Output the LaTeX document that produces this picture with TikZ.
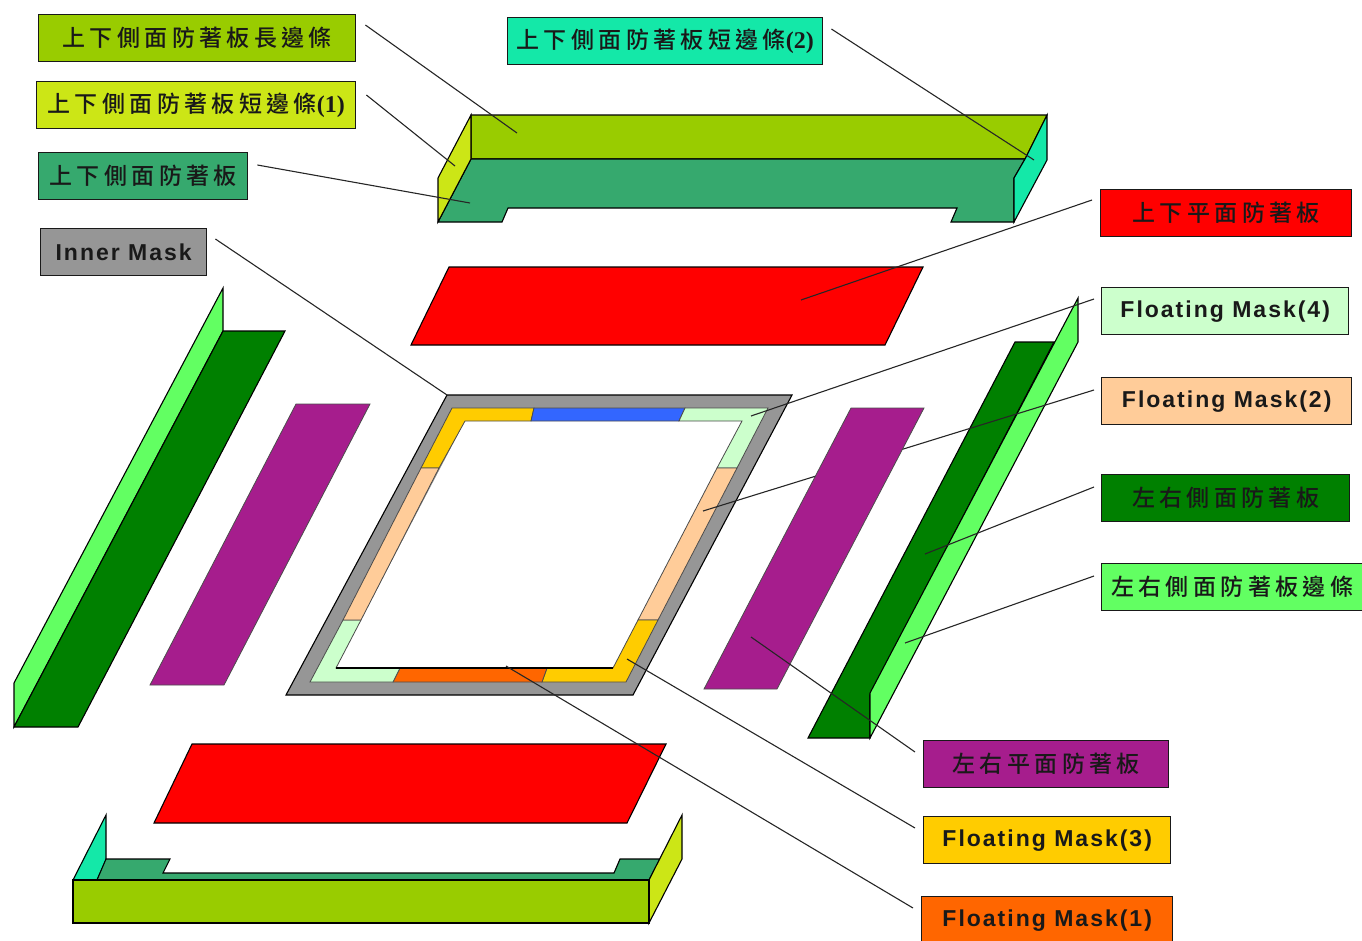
\documentclass[tikz,border=0pt]{standalone}
\usepackage{fontspec}
\setmainfont{Liberation Sans}
\newfontfamily\cjkf[LetterSpace=19]{Noto Sans CJK TC Medium}
\newfontfamily\latf[LetterSpace=8.7]{Liberation Sans Bold}
\newfontfamily\parf{Liberation Serif Bold}
\definecolor{cLong}{HTML}{99CC00}
\definecolor{cShort}{HTML}{CCE616}
\definecolor{cSide}{HTML}{36A96E}
\definecolor{cTeal}{HTML}{14E8A8}
\definecolor{cGray}{HTML}{969696}
\definecolor{cLGreen}{HTML}{CCFFCC}
\definecolor{cPeach}{HTML}{FFCC99}
\definecolor{cDGreen}{HTML}{008000}
\definecolor{cBright}{HTML}{62FF62}
\definecolor{cPurple}{HTML}{A61D8D}
\definecolor{cGold}{HTML}{FFCC00}
\definecolor{cOrange}{HTML}{FF6600}
\definecolor{cBlue}{HTML}{3366FF}
\tikzset{
  x=1pt,y=-1pt,
  lab/.style={draw=black!90,line width=1.4pt,minimum height=47pt,inner sep=0pt,anchor=north west,text=black!90},
  face/.style={draw=black,line width=1.1pt,line join=miter},
  seg/.style={draw=black!70,line width=0.8pt,line join=miter},
  lead/.style={draw=black!85,line width=1.1pt},
}
\newcommand{\cj}[1]{\raisebox{-1pt}{\fontsize{23}{25}\cjkf #1}}
\newcommand{\lt}[1]{{\fontsize{23}{25}\latf #1}}
\newcommand{\pn}[1]{\raisebox{-1pt}{\fontsize{24}{25}\parf #1}}
\begin{document}
\begin{tikzpicture}
\useasboundingbox (0,0) rectangle (1362,940);
% labels
\node[lab,fill=cLong,minimum width=317pt] (l1) at (38,14) {\cj{上下側面防著板長邊條}};
\node[lab,fill=cShort,minimum width=319pt] (l2) at (36,81) {\cj{上下側面防著板短邊條}\pn{(1)}};
\node[lab,fill=cSide,minimum width=209pt] (l3) at (38,152) {\cj{上下側面防著板}};
\node[lab,fill=cGray,minimum width=166pt] (l4) at (40,228) {\lt{Inner Mask}};
\node[lab,fill=cTeal,minimum width=315pt] (l5) at (507,17) {\cj{上下側面防著板短邊條}\pn{(2)}};
\node[lab,fill=red,minimum width=251pt] (l6) at (1100,189) {\cj{上下平面防著板}};
\node[lab,fill=cLGreen,minimum width=247pt] (l7) at (1101,287) {\lt{Floating Mask(4)}};
\node[lab,fill=cPeach,minimum width=250pt] (l8) at (1101,377) {\lt{Floating Mask(2)}};
\node[lab,fill=cDGreen,minimum width=248pt] (l9) at (1101,474) {\cj{左右側面防著板}};
\node[lab,fill=cBright,minimum width=261pt] (l10) at (1101,563) {\cj{左右側面防著板邊條}};
\node[lab,fill=cPurple,minimum width=245pt] (l11) at (923,740) {\cj{左右平面防著板}};
\node[lab,fill=cGold,minimum width=247pt] (l12) at (923,816) {\lt{Floating Mask(3)}};
\node[lab,fill=cOrange,minimum width=251pt] (l13) at (921,896) {\lt{Floating Mask(1)}};
% top assembly
\draw[face,fill=cLong] (471,115) -- (1047,115) -- (1025,159) -- (471,159) -- cycle;
\draw[face,fill=cSide] (471,159) -- (1025,159) -- (1014,178) -- (1014,222) -- (951,222) -- (957,208) -- (508,208) -- (502,222) -- (438,222) -- cycle;
\draw[face,fill=cShort] (471,115) -- (471,159) -- (438,222) -- (438,178) -- cycle;
\draw[face,fill=cTeal] (1047,115) -- (1025,159) -- (1014,178) -- (1014,222) -- (1047,160) -- cycle;
% planes
\draw[face,fill=red] (449,267) -- (923,267) -- (885,345) -- (411,345) -- cycle;
\draw[face,fill=red] (192,744) -- (666,744) -- (627,823) -- (154,823) -- cycle;
% left assembly
\draw[face,fill=cBright] (223,288) -- (223,331) -- (14,727) -- (14,683) -- cycle;
\draw[face,fill=cDGreen] (223,331) -- (285,331) -- (78,727) -- (14,727) -- cycle;
\draw[seg,fill=cPurple] (296,404) -- (370,404) -- (224,685) -- (150,685) -- cycle;
% frame
\draw[face,fill=cGray] (447,395) -- (792,395) -- (633,695) -- (286,695) -- cycle;
\fill[white] (465,421) -- (742,421) -- (613,668) -- (336,668) -- cycle;
\draw[seg,fill=cGold] (452,408) -- (534,408) -- (531,421) -- (465,421) -- (439,468) -- (421,468) -- cycle;
\draw[seg,fill=cBlue] (534,408) -- (685,408) -- (679,421) -- (531,421) -- cycle;
\draw[seg,fill=cLGreen] (685,408) -- (768,408) -- (737,468) -- (717,468) -- (742,421) -- (679,421) -- cycle;
\draw[seg,fill=cPeach] (717,468) -- (737,468) -- (658,620) -- (638,620) -- cycle;
\draw[seg,fill=cGold] (638,620) -- (658,620) -- (626,682) -- (542,682) -- (547,668) -- (613,668) -- cycle;
\draw[seg,fill=cOrange] (400,668) -- (547,668) -- (542,682) -- (393,682) -- cycle;
\draw[seg,fill=cLGreen] (343,620) -- (361,620) -- (336,668) -- (400,668) -- (393,682) -- (310,682) -- cycle;
\draw[seg,fill=cPeach] (421,468) -- (439,468) -- (361,620) -- (343,620) -- cycle;
\draw[black,line width=1.2pt] (336,668) -- (613,668);
% right dark strip
\draw[face,fill=cDGreen] (1015,342) -- (1054,342) -- (870,695) -- (870,738) -- (808,738) -- cycle;
\draw[face,fill=cBright] (1078,298) -- (1078,342) -- (870,738) -- (870,693) -- cycle;
% bottom assembly
\draw[face,fill=cTeal] (106,815) -- (106,860) -- (97,880) -- (73,880) -- cycle;
\draw[face,fill=cSide] (106,859) -- (170,859) -- (163,873) -- (614,873) -- (620,859) -- (660,859) -- (649,880) -- (97,880) -- cycle;
\draw[face,fill=cShort] (682,815) -- (682,859) -- (649,923) -- (649,880) -- cycle;
\draw[face,fill=cLong] (73,880) -- (649,880) -- (649,923) -- (73,923) -- cycle;
% leader end points
\coordinate (e1) at (517,133);
\coordinate (e2) at (455,166);
\coordinate (e3) at (470,203);
\coordinate (e4) at (447,395);
\coordinate (e5) at (1034,160);
\coordinate (e6) at (801,300);
\coordinate (e7) at (751,416);
\coordinate (e8) at (703,511);
\coordinate (e9) at (925,554);
\coordinate (e10) at (905,643);
\coordinate (e11) at (751,637);
\coordinate (e12) at (627,659);
\coordinate (e13) at (506,666);
% leader that runs behind the right purple plane
\draw[lead] ([xshift=-7pt,yshift=-13pt]l8.north west) -- (e8);
% right purple plane
\draw[seg,fill=cPurple] (851,408) -- (924,408) -- (777,689) -- (704,689) -- cycle;
% leaders
\draw[lead] ([xshift=9pt,yshift=-11pt]l1.north east) -- (e1);
\draw[lead] ([xshift=10pt,yshift=-14pt]l2.north east) -- (e2);
\draw[lead] ([xshift=9pt,yshift=-13pt]l3.north east) -- (e3);
\draw[lead] ([xshift=8pt,yshift=-11pt]l4.north east) -- (e4);
\draw[lead] ([xshift=8pt,yshift=-12pt]l5.north east) -- (e5);
\draw[lead] ([xshift=-8pt,yshift=-11pt]l6.north west) -- (e6);
\draw[lead] ([xshift=-7pt,yshift=-12pt]l7.north west) -- (e7);
\draw[lead] ([xshift=-7pt,yshift=-13pt]l9.north west) -- (e9);
\draw[lead] ([xshift=-7pt,yshift=-13pt]l10.north west) -- (e10);
\draw[lead] ([xshift=-8pt,yshift=-12pt]l11.north west) -- (e11);
\draw[lead] ([xshift=-8pt,yshift=-12pt]l12.north west) -- (e12);
\draw[lead] ([xshift=-8pt,yshift=-12pt]l13.north west) -- (e13);
\end{tikzpicture}
\end{document}
